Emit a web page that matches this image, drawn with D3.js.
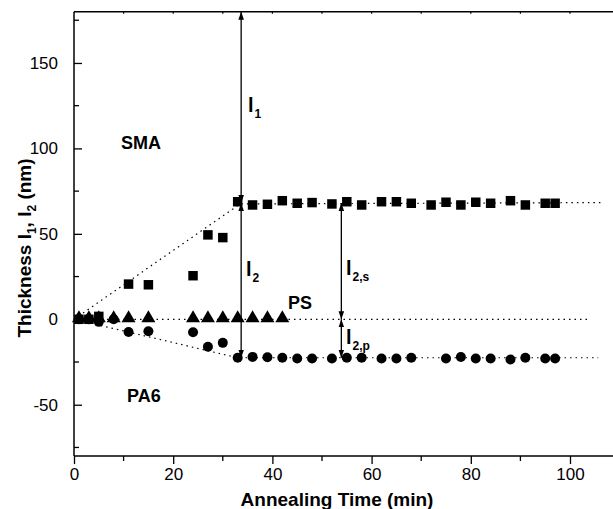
<!DOCTYPE html>
<html>
<head>
<meta charset="utf-8">
<script src="https://cdn.jsdelivr.net/npm/d3@7"></script>
<style>
  body { margin: 0; background: #fff; }
  svg { display: block; font-family: "Liberation Sans", Arial, sans-serif; }
</style>
</head>
<body>
<div id="chart"></div>
<script>
// data
var smaTime = [1, 3, 5, 11, 15, 24, 27, 30, 33, 36, 39, 42, 45, 48, 52, 55, 58, 62, 65, 68, 72, 75, 78, 81, 84, 88, 91, 95, 97];
var smaThick = [0, 0, 1.7, 20.6, 20.2, 25.5, 49.4, 47.8, 68.8, 66.9, 67.3, 69.4, 67.9, 68.3, 67.5, 68.8, 66.9, 68.8, 68.8, 67.9, 66.9, 68.5, 66.9, 68.5, 67.9, 69.4, 66.9, 67.9, 67.9];

var psTime = [1, 3, 5, 8, 11, 15, 24, 27, 30, 33, 36, 39, 42];
var psThick = [0, 0, 0, 0, 0, 0, 0, 0, 0, 0, 0, 0, 0];

var pa6Time = [1, 3, 5, 8, 11, 15, 24, 27, 30, 33, 36, 39, 42, 45, 48, 52, 55, 58, 62, 65, 68, 75, 78, 81, 84, 88, 91, 95, 97];
var pa6Thick = [0, 0, -1.5, 0, -7.4, -7.0, -7.6, -16.1, -13.8, -22.5, -22, -22.2, -22.5, -22.9, -22.9, -22.9, -22.5, -22.5, -22.9, -22.9, -22.5, -22.9, -22.1, -22.9, -22.9, -23.5, -22.5, -22.9, -22.9];

// dotted guide lines
var smaGuide = [[0, 0], [33.5, 67.5], [106.7, 68.3]];
var psGuide = [[0, 0], [103.6, 0]];
var pa6Guide = [[0, 0], [33, -22.5], [105.7, -22.5]];

var xTicks = [0, 20, 40, 60, 80, 100];
var yTicks = [-50, 0, 50, 100, 150];

var svgWidth = 613;
var svgHeight = 509;

var svg = d3.select("#chart").append("svg")
  .attr("width", svgWidth)
  .attr("height", svgHeight);

var x = d3.scaleLinear().domain([0, 110]).range([74, 74 + 110 * 4.96]);
var y = d3.scaleLinear().domain([-80, 180]).range([456, 11.7]);

// plain hyphen for negatives, like the original
var fmt = d => String(d);

// arrow heads
var defs = svg.append("defs");
defs.append("marker")
  .attr("id", "head")
  .attr("viewBox", "0 0 10 10")
  .attr("refX", 10).attr("refY", 5)
  .attr("markerWidth", 8).attr("markerHeight", 8)
  .attr("markerUnits", "userSpaceOnUse")
  .attr("orient", "auto-start-reverse")
  .append("path")
  .attr("d", "M0,1.5L10,5L0,8.5Z")
  .attr("fill", "#000");

// axes
var bottomAxis = d3.axisBottom(x).tickValues(xTicks).tickSize(8).tickPadding(4).tickFormat(fmt);
var xAxis = svg.append("g")
  .attr("transform", `translate(0, ${y(-80)})`)
  .call(bottomAxis);
xAxis.selectAll(".minor").data([10, 30, 50, 70, 90]).enter()
  .append("line").attr("class", "minor")
  .attr("x1", d => x(d)).attr("x2", d => x(d))
  .attr("y1", 0).attr("y2", 5).attr("stroke", "#000");

var leftAxis = d3.axisLeft(y).tickValues(yTicks).tickSize(-8).tickPadding(16).tickFormat(fmt);
var yAxis = svg.append("g")
  .attr("transform", `translate(${x(0)}, 0)`)
  .call(leftAxis);
yAxis.selectAll(".minor").data([-75, -25, 25, 75, 125, 175]).enter()
  .append("line").attr("class", "minor")
  .attr("x1", 0).attr("x2", 5)
  .attr("y1", d => y(d)).attr("y2", d => y(d)).attr("stroke", "#000");

[xAxis, yAxis].forEach(function(a) {
  a.select(".domain").attr("stroke-width", 1.5);
  a.selectAll(".tick line").attr("stroke-width", 1.3);
  a.selectAll(".minor").attr("stroke-width", 1.3);
  a.selectAll("text").attr("font-size", 17).attr("font-family", "Liberation Sans, Arial, sans-serif").attr("fill", "#000");
});
xAxis.select(".domain").attr("d", `M${x(0)},0H${svgWidth}`);
yAxis.select(".domain").attr("d", `M0,${y(-80)}V${y(180)}`);

// top frame with little ticks
svg.append("line")
  .attr("x1", x(0)).attr("x2", svgWidth)
  .attr("y1", y(180)).attr("y2", y(180))
  .attr("stroke", "#000").attr("stroke-width", 1.5);
svg.selectAll(".topTick").data(d3.range(10, 110, 10)).enter()
  .append("line").attr("class", "topTick")
  .attr("x1", d => x(d)).attr("x2", d => x(d))
  .attr("y1", y(180)).attr("y2", y(180) + 2)
  .attr("stroke", "#000").attr("stroke-width", 1.2);

// dotted guides
var line = d3.line().x(d => x(d[0])).y(d => y(d[1]));
[smaGuide, psGuide, pa6Guide].forEach(function(g) {
  svg.append("path")
    .attr("d", line(g))
    .attr("fill", "none")
    .attr("stroke", "#000")
    .attr("stroke-width", 1.2)
    .attr("stroke-dasharray", "1.5,4");
});

// markers
var sq = d3.symbol().type(d3.symbolSquare).size(90);
var tri = d3.symbol().type(d3.symbolTriangle).size(85);

svg.append("g").selectAll("path")
  .data(psTime.map((t, i) => [t, psThick[i]]))
  .enter().append("path")
  .attr("d", tri)
  .attr("transform", d => `translate(${x(d[0])}, ${y(d[1]) - 1})`)
  .attr("fill", "#000");

svg.append("g").selectAll("circle")
  .data(pa6Time.map((t, i) => [t, pa6Thick[i]]))
  .enter().append("circle")
  .attr("cx", d => x(d[0]))
  .attr("cy", d => y(d[1]))
  .attr("r", 5)
  .attr("fill", "#000");

svg.append("g").selectAll("path")
  .data(smaTime.map((t, i) => [t, smaThick[i]]))
  .enter().append("path")
  .attr("d", sq)
  .attr("transform", d => `translate(${x(d[0])}, ${y(d[1])})`)
  .attr("fill", "#000");

// double arrows
var arrows = [
  [33.7, 180, 68],
  [33.7, 68, -22.5],
  [53.9, 68, 0],
  [53.9, 0, -22.5]
];
svg.append("g").selectAll("line")
  .data(arrows)
  .enter().append("line")
  .attr("x1", d => x(d[0])).attr("x2", d => x(d[0]))
  .attr("y1", d => y(d[1])).attr("y2", d => y(d[2]))
  .attr("stroke", "#000").attr("stroke-width", 1.3)
  .attr("marker-start", "url(#head)")
  .attr("marker-end", "url(#head)");

// labels
function lLabel(px, py, sub) {
  var t = svg.append("text")
    .attr("x", px).attr("y", py)
    .attr("font-size", 20).attr("font-weight", "bold");
  t.append("tspan").text("l");
  t.append("tspan").attr("font-size", 12).attr("dy", 6).attr("dx", 1).text(sub);
}
lLabel(248, 112, "1");
lLabel(246, 276, "2");
lLabel(346, 275, "2,s");
lLabel(346, 344, "2,p");

svg.append("text").attr("x", 121).attr("y", 149)
  .attr("font-size", 18).attr("font-weight", "bold").text("SMA");
svg.append("text").attr("x", 288).attr("y", 309)
  .attr("font-size", 18).attr("font-weight", "bold").text("PS");
svg.append("text").attr("x", 127).attr("y", 402)
  .attr("font-size", 18).attr("font-weight", "bold").text("PA6");

// axis titles
svg.append("text")
  .attr("x", 337).attr("y", 506)
  .attr("text-anchor", "middle")
  .attr("font-size", 19).attr("font-weight", "bold")
  .text("Annealing Time (min)");

var yt = svg.append("text")
  .attr("transform", `translate(31, 248) rotate(-90)`)
  .attr("text-anchor", "middle")
  .attr("font-size", 19).attr("font-weight", "bold");
yt.append("tspan").text("Thickness l");
yt.append("tspan").attr("font-size", 12).attr("dy", 5).text("1");
yt.append("tspan").attr("dy", -5).text(", l");
yt.append("tspan").attr("font-size", 12).attr("dy", 5).text("2");
yt.append("tspan").attr("dy", -5).text(" (nm)");
</script>
</body>
</html>
